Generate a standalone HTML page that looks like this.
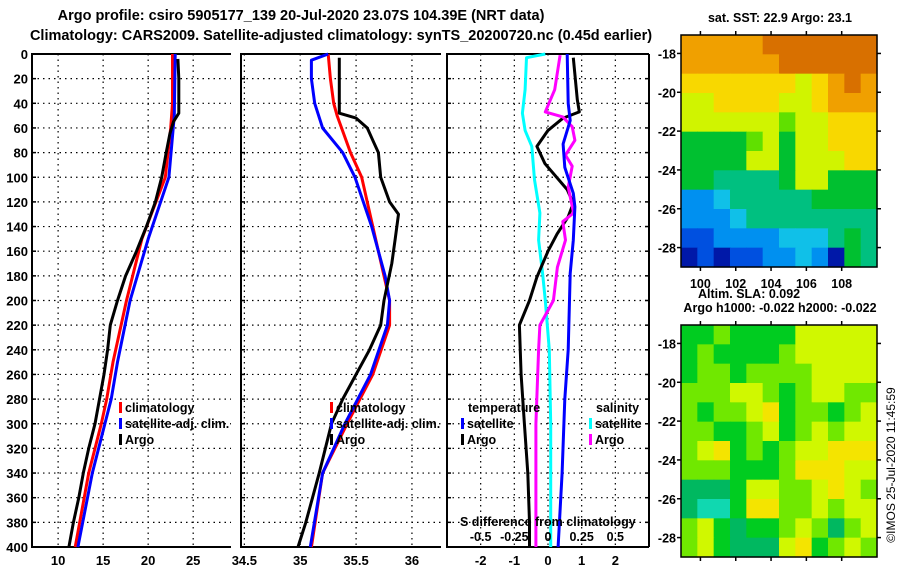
<!DOCTYPE html>
<html><head><meta charset="utf-8">
<style>
body{margin:0;background:#fff;}
svg{display:block;font-family:"Liberation Sans",sans-serif;font-weight:bold;}
</style></head>
<body>
<svg id="fig" width="900" height="580" viewBox="0 0 900 580">
<rect width="900" height="580" fill="#fff"/>
<text x="301" y="20" font-size="14.5" text-anchor="middle">Argo profile: csiro 5905177_139 20-Jul-2020 23.07S 104.39E (NRT data)</text>
<text x="341" y="40" font-size="14.5" text-anchor="middle">Climatology: CARS2009. Satellite-adjusted climatology: synTS_20200720.nc (0.45d earlier)</text>
<text x="780" y="22" font-size="12.5" text-anchor="middle">sat. SST: 22.9 Argo: 23.1</text>
<text x="780" y="312" font-size="12.5" text-anchor="middle">Argo h1000: -0.022 h2000: -0.022</text>
<text x="895" y="465" font-size="12" font-weight="normal" text-anchor="middle" transform="rotate(-90 895 465)">©IMOS 25-Jul-2020 11:45:59</text>
<g id="plots"></g>
</svg>
<script>
// ---------- data ----------
const depthTicks = [0,20,40,60,80,100,120,140,160,180,200,220,240,260,280,300,320,340,360,380,400];
const tempTicks = [10,15,20,25];
const salTicks = [34.5,35,35.5,36];
const diffTicks = [-2,-1,0,1,2];
const sdiffTicks = [-0.5,-0.25,0,0.25,0.5];
const sdiffTickLabels = ['-0.5','-0.25','0','0.25','0.5'];

const argoTDepth = [4,20,40,48,55,65,80,100,120,140,160,180,200,220,240,260,280,300,320,340,360,380,400];
const argoT = [23.3,23.4,23.4,23.4,22.8,22.4,22.0,21.5,20.8,19.8,18.7,17.5,16.6,15.8,15.5,15.1,14.6,14.1,13.4,12.8,12.3,11.7,11.2];
const climTDepth = [0,40,60,100,150,200,250,280,300,340,400];
const climT = [22.7,22.7,22.5,21.9,19.3,17.6,16.1,15.4,14.8,13.4,11.9];
const satTDepth = [0,50,100,150,200,250,280,300,340,400];
const satT = [23.0,22.9,22.3,20.0,18.0,16.6,15.9,15.2,13.8,12.2];

const argoSDepth = [3,48,52,60,70,80,100,120,130,150,170,200,220,240,260,280,300,340,380,400];
const argoS = [35.35,35.35,35.5,35.6,35.65,35.7,35.72,35.8,35.88,35.85,35.82,35.75,35.72,35.62,35.5,35.38,35.28,35.17,35.05,34.98];
const climSDepth = [0,20,40,50,80,100,140,180,200,220,260,300,340,400];
const climS = [35.25,35.27,35.3,35.33,35.45,35.55,35.65,35.75,35.8,35.8,35.65,35.42,35.2,35.1];
const satSDepth = [0,5,20,40,60,80,100,140,180,200,220,260,300,340,400];
const satS = [35.25,35.1,35.1,35.13,35.2,35.38,35.49,35.64,35.76,35.8,35.78,35.63,35.4,35.2,35.09];

const dTsatDepth = [0,40,54,73,92,113,124,151,178,240,280,340,400];
const dTsat = [0.57,0.6,0.66,0.45,0.5,0.75,0.8,0.75,0.66,0.6,0.5,0.42,0.3];
const dTargoDepth = [3,37,47,52,62,75,89,110,121,132,146,160,181,200,220,260,300,340,380,400];
const dTargo = [0.75,0.87,0.93,0.45,0,-0.33,-0.09,0.57,0.75,0.6,0.27,0,-0.33,-0.55,-0.85,-0.8,-0.7,-0.6,-0.55,-0.55];
const dSsatDepth = [0,3,29,48,62,75,102,129,151,178,200,240,300,400];
const dSsat = [-0.02,-0.16,-0.17,-0.19,-0.17,-0.12,-0.10,-0.06,-0.07,-0.04,-0.02,0.01,0.02,0.02];
const dSargoDepth = [1,29,47,51,59,70,82,91,108,129,136,151,173,200,220,240,300,340,400];
const dSargo = [0.09,0.05,-0.02,0.11,0.18,0.2,0.13,0.18,0.15,0.19,0.11,0.13,0.07,0.04,-0.06,-0.07,-0.09,-0.09,-0.09];

// map data (colour level per cell, rows north->south)
const sstLevels = [
[9,9,9,9,9,10,10,10,10,10,10,10],
[9,9,9,9,9,9,10,10,10,10,10,10],
[8,8,8,8,8,8,8,7,8,9,10,9],
[7,7,8,8,8,8,7,7,8,9,9,9],
[7,7,7,7,7,7,6,7,7,8,8,8],
[5,5,5,5,6,7,5,7,7,8,8,8],
[5,5,5,5,7,7,5,7,7,7,8,8],
[5,5,4,4,4,4,5,7,7,5,5,5],
[2,2,3,4,4,4,4,4,5,5,5,5],
[2,2,2,3,4,4,4,4,4,4,4,4],
[1,1,2,2,2,2,3,3,3,4,5,4],
[0,1,0,1,1,2,2,3,2,0,5,4]];
const slaLevels = [
[5,5,6,5,5,5,5,7,7,7,7,7],
[5,6,5,5,5,5,6,7,7,7,7,7],
[5,6,6,5,6,6,6,6,7,7,7,7],
[6,6,6,7,7,6,5,6,7,7,6,6],
[6,5,6,6,7,8,5,6,6,5,6,7],
[6,6,5,5,6,7,5,6,7,6,7,7],
[6,7,8,5,6,5,6,7,7,8,8,8],
[6,6,6,5,5,5,6,8,8,8,7,7],
[4,4,4,5,7,7,6,6,7,8,7,6],
[4,3,3,5,8,8,6,6,7,6,7,7],
[6,7,5,4,5,5,6,7,6,4,6,7],
[6,7,5,4,4,4,7,8,5,6,7,6]];
const latTicks = [-18,-20,-22,-24,-26,-28];
const lonTicks = [100,102,104,106,108];

// ---------- drawing ----------
const NS='http://www.w3.org/2000/svg';
const root=document.getElementById('plots');
function mk(tag,attrs,parent){const e=document.createElementNS(NS,tag);for(const k in attrs)e.setAttribute(k,attrs[k]);(parent||root).appendChild(e);return e;}
const yTop=54, yBot=547;
const yD = d => yTop + (yBot-yTop)*d/400;
const panels=[
 {x0:32,x1:231,v0:7.1,v1:29.2,ticks:tempTicks,name:'temperature'},
 {x0:241,x1:441,v0:34.47,v1:36.26,ticks:salTicks,name:'salinity'},
 {x0:447,x1:649,v0:-3,v1:3,ticks:diffTicks,name:'difference'}];
function xf(p,v){return p.x0+(p.x1-p.x0)*(v-p.v0)/(p.v1-p.v0);}

panels.forEach((p,i)=>{
  const g=mk('g',{});
  
  
  depthTicks.forEach(d=>{
    if(d>0&&d<400){const l=mk('line',{x1:p.x0,x2:p.x1,y1:yD(d),y2:yD(d),stroke:'#000','stroke-width':1.2,'stroke-dasharray':'1.5,4'},g);
    }
    const t=mk('line',{x1:p.x0,x2:p.x0+4,y1:yD(d),y2:yD(d),stroke:'#000','stroke-width':1.5},g);
    
    if(i===2){const t2=mk('line',{x1:p.x1-4,x2:p.x1,y1:yD(d),y2:yD(d),stroke:'#000','stroke-width':1.5},g);
      }
    if(i===0){const lb=mk('text',{x:p.x0-4,y:yD(d)+5,'font-size':13,'text-anchor':'end'},g);lb.textContent=d;
      }
  });
  p.ticks.forEach(v=>{
    const x=xf(p,v);
    const l=mk('line',{x1:x,x2:x,y1:yTop,y2:yBot,stroke:'#000','stroke-width':1.2,'stroke-dasharray':'1.5,4'},g);
    
    const lb=mk('text',{x:x,y:yBot+18,'font-size':13,'text-anchor':'middle',fill:'#000'},g);lb.textContent=v;
    
  });
  const fr=mk('path',{d:`M${p.x0} ${yTop}H${p.x1}M${p.x0} ${yTop-1}V${yBot}H${p.x1}`+(i===2?`M${p.x1} ${yTop}V${yBot}`:''),stroke:'#000','stroke-width':2,fill:'none'},g);
  
});

function series(p,depths,vals,color,name,scale){
  const pts=depths.map((d,k)=>xf(p,vals[k]*(scale||1)).toFixed(1)+','+yD(d).toFixed(1)).join(' ');
  const pl=mk('polyline',{points:pts,fill:'none',stroke:color,'stroke-width':3,'stroke-linejoin':'round'});
  
  
}
series(panels[0],climTDepth,climT,'#f00','temp-climatology-line');
series(panels[0],satTDepth,satT,'#00f','temp-satellite-line');
series(panels[0],argoTDepth,argoT,'#000','temp-argo-line');
series(panels[1],climSDepth,climS,'#f00','sal-climatology-line');
series(panels[1],satSDepth,satS,'#00f','sal-satellite-line');
series(panels[1],argoSDepth,argoS,'#000','sal-argo-line');
series(panels[2],dSsatDepth,dSsat,'#0ff','sdiff-satellite-line',4);
series(panels[2],dTargoDepth,dTargo,'#000','tdiff-argo-line');
series(panels[2],dSargoDepth,dSargo,'#f0f','sdiff-argo-line',4);
series(panels[2],dTsatDepth,dTsat,'#00f','tdiff-satellite-line');

function legend(x,y,color,label,name){
  const g=mk('g',{});
  
  
  mk('rect',{x:x,y:y-10,width:3,height:11,fill:color},g);
  const t=mk('text',{x:x+6,y:y,'font-size':12.5},g);t.textContent=label;
}
legend(119,412,'#f00','climatology','legend-climatology');
legend(119,428,'#00f','satellite-adj. clim.','legend-satellite-adj');
legend(119,444,'#000','Argo','legend-argo');
legend(330,412,'#f00','climatology','legend-climatology-2');
legend(330,428,'#00f','satellite-adj. clim.','legend-satellite-adj-2');
legend(330,444,'#000','Argo','legend-argo-2');
legend(461,428,'#00f','satellite','legend-temp-satellite');
legend(461,444,'#000','Argo','legend-temp-argo');
legend(589,428,'#0ff','satellite','legend-sal-satellite');
legend(589,444,'#f0f','Argo','legend-sal-argo');
[['temperature',468,412,'legend-temperature-heading'],['salinity',596,412,'legend-salinity-heading'],['S difference from climatology',460,526,'sdiff-axis-title']].forEach(a=>{
  const t=mk('text',{x:a[1],y:a[2],'font-size':12.5});t.textContent=a[0];
  
});
sdiffTicks.forEach((v,k)=>{
  const t=mk('text',{x:xf(panels[2],v*4),y:541,'font-size':12.5,'text-anchor':'middle'});t.textContent=sdiffTickLabels[k];
  
});

// maps
const sstColors=['#0018a8','#0050e0','#0090f0','#10c0e8','#00c080','#00c030','#60e000','#d0f400','#f8d800','#f0a000','#d87000'];
const slaColors=['#000','#000','#000','#10d8b0','#00b860','#00cc20','#70e800','#d0f800','#f4e400'];
function drawMap(x0,y0,x1,y1,levels,colors,name,showLon){
  const g=mk('g',{});
  
  
  const rows=levels.length,cols=levels[0].length;
  const cw=(x1-x0)/cols,ch=(y1-y0)/rows;
  levels.forEach((row,r)=>row.forEach((v,c)=>{
    const cell=mk('rect',{x:x0+c*cw,y:y0+r*ch,width:cw+0.6,height:ch+0.6,fill:colors[v]},g);
    
    
  }));
  mk('rect',{x:x0,y:y0,width:x1-x0,height:y1-y0,fill:'none',stroke:'#000','stroke-width':1.5},g);
  const latY=l=>y0+(y1-y0)*(-17.05-l)/(29-17.05);
  const lonX=l=>x0+(x1-x0)*(l-98.9)/(110-98.9);
  latTicks.forEach(l=>{
    mk('line',{x1:x0-4,x2:x0,y1:latY(l),y2:latY(l),stroke:'#000','stroke-width':1.5},g);
    mk('line',{x1:x1,x2:x1+4,y1:latY(l),y2:latY(l),stroke:'#000','stroke-width':1.5},g);
    const t=mk('text',{x:x0-5,y:latY(l)+5,'font-size':12.5,'text-anchor':'end'},g);t.textContent=l;
  });
  lonTicks.forEach(l=>{
    mk('line',{x1:lonX(l),x2:lonX(l),y1:y0-4,y2:y0,stroke:'#000','stroke-width':1.5},g);
    mk('line',{x1:lonX(l),x2:lonX(l),y1:y1,y2:y1+4,stroke:'#000','stroke-width':1.5},g);
    if(showLon){const t=mk('text',{x:lonX(l),y:y1+21,'font-size':12.5,'text-anchor':'middle'},g);t.textContent=l;}
  });
}
drawMap(681,35,877,267,sstLevels,sstColors,'sst-map',true);
drawMap(681,325,877,557,slaLevels,slaColors,'sla-map',false);
const sla=mk('text',{x:698,y:298,'font-size':12.5});sla.textContent='Altim. SLA: 0.092';


</script>
</body></html>
